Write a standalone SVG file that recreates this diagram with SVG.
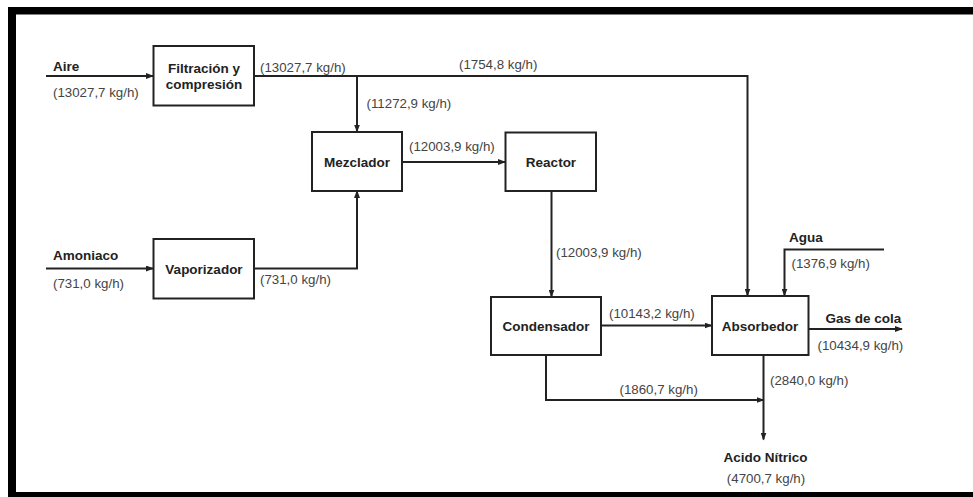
<svg xmlns="http://www.w3.org/2000/svg" width="973" height="497" viewBox="0 0 973 497">
<defs>
<style>
.box{fill:#fff;stroke:#222;stroke-width:2}
.ln{fill:none;stroke:#222;stroke-width:2}
.lb{font-family:"Liberation Sans",Arial,sans-serif;font-size:13.5px;font-weight:bold;fill:#222}
.nm{font-family:"Liberation Sans",Arial,sans-serif;font-size:13.3px;fill:#444}
.c{text-anchor:middle}
</style>
<marker id="ah" markerWidth="8" markerHeight="6" refX="7" refY="3" orient="auto" markerUnits="userSpaceOnUse">
<path d="M0,0 L8,3 L0,6 Z" fill="#222"/>
</marker>
</defs>
<rect x="0" y="0" width="973" height="497" fill="#fff"/>
<g id="frame">
<rect x="8" y="7" width="965" height="7.5" fill="#000"/>
<rect x="8" y="7" width="8" height="490" fill="#000"/>
<rect x="8" y="492" width="965" height="5" fill="#000"/>
</g>
<g id="connectors">
<line class="ln" x1="46" y1="76" x2="153" y2="76" marker-end="url(#ah)"/>
<polyline class="ln" points="254,76 747.5,76 747.5,295.5" marker-end="url(#ah)"/>
<line class="ln" x1="357" y1="76" x2="357" y2="131.5" marker-end="url(#ah)"/>
<line class="ln" x1="46" y1="268.5" x2="153" y2="268.5" marker-end="url(#ah)"/>
<polyline class="ln" points="254,268.5 357,268.5 357,191" marker-end="url(#ah)"/>
<line class="ln" x1="402" y1="162" x2="505" y2="162" marker-end="url(#ah)"/>
<line class="ln" x1="551.5" y1="191" x2="551.5" y2="296.5" marker-end="url(#ah)"/>
<line class="ln" x1="601" y1="325.5" x2="711.5" y2="325.5" marker-end="url(#ah)"/>
<polyline class="ln" points="884,249.5 784.5,249.5 784.5,295.5" marker-end="url(#ah)"/>
<line class="ln" x1="808.5" y1="329" x2="902" y2="329" marker-end="url(#ah)"/>
<polyline class="ln" points="546,355 546,400 763.5,400" marker-end="url(#ah)"/>
<line class="ln" x1="763.5" y1="355" x2="763.5" y2="439.5" marker-end="url(#ah)"/>
</g>
<g id="filtracion">
<rect class="box" x="153.5" y="46" width="100.5" height="59.5"/>
<text class="lb c" x="204" y="72.5">Filtración y</text>
<text class="lb c" x="204" y="88.5">compresión</text>
</g>
<g id="mezclador">
<rect class="box" x="312" y="132" width="90" height="59"/>
<text class="lb c" x="357" y="166.5">Mezclador</text>
</g>
<g id="reactor">
<rect class="box" x="505.5" y="132.5" width="90.5" height="58.5"/>
<text class="lb c" x="551" y="166.5">Reactor</text>
</g>
<g id="vaporizador">
<rect class="box" x="153.5" y="239" width="100.5" height="59.5"/>
<text class="lb c" x="204" y="274">Vaporizador</text>
</g>
<g id="condensador">
<rect class="box" x="491" y="297" width="110" height="58"/>
<text class="lb c" x="546" y="330.5">Condensador</text>
</g>
<g id="absorbedor">
<rect class="box" x="712" y="296" width="96.5" height="59"/>
<text class="lb c" x="760" y="330.5">Absorbedor</text>
</g>
<g id="labels">
<text class="lb" x="53" y="71">Aire</text>
<text class="nm" x="53" y="97">(13027,7 kg/h)</text>
<text class="nm" x="260" y="71.5">(13027,7 kg/h)</text>
<text class="nm" x="459" y="68.5">(1754,8 kg/h)</text>
<text class="nm" x="366.5" y="108">(11272,9 kg/h)</text>
<text class="nm" x="409" y="151">(12003,9 kg/h)</text>
<text class="lb" x="53" y="259.5">Amoniaco</text>
<text class="nm" x="53" y="287.5">(731,0 kg/h)</text>
<text class="nm" x="260" y="284">(731,0 kg/h)</text>
<text class="nm" x="556" y="257">(12003,9 kg/h)</text>
<text class="lb" x="789" y="242">Agua</text>
<text class="nm" x="791.5" y="267.5">(1376,9 kg/h)</text>
<text class="nm" x="609" y="317.5">(10143,2 kg/h)</text>
<text class="lb" x="825.5" y="322.5">Gas de cola</text>
<text class="nm" x="817.5" y="349.5">(10434,9 kg/h)</text>
<text class="nm" x="619.5" y="393.5">(1860,7 kg/h)</text>
<text class="nm" x="770" y="384.5">(2840,0 kg/h)</text>
<text class="lb c" x="765.5" y="462">Acido Nítrico</text>
<text class="nm c" x="766" y="483">(4700,7 kg/h)</text>
</g>
</svg>
